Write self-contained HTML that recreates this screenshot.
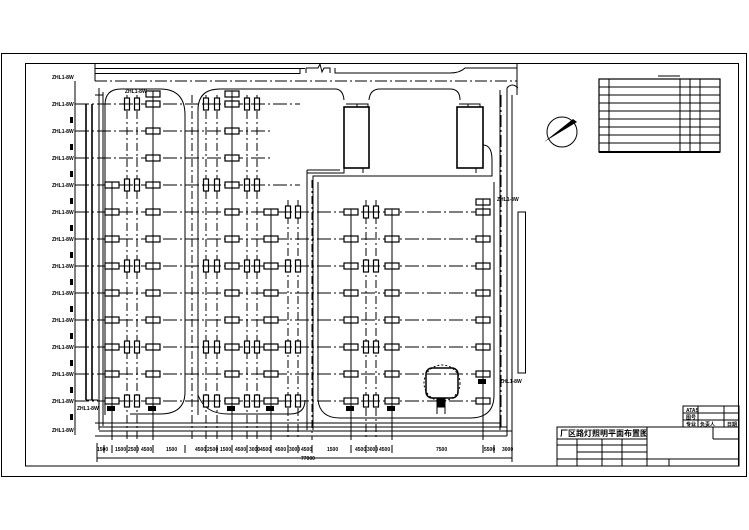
<!DOCTYPE html>
<html><head><meta charset="utf-8"><style>
html,body{margin:0;padding:0;background:#fff;width:749px;height:530px;overflow:hidden}
svg{display:block}
text{font-family:"Liberation Sans","Noto Sans CJK SC",sans-serif;font-weight:bold;fill:#000}
</style></head><body>
<svg width="749" height="530" viewBox="0 0 749 530" xmlns="http://www.w3.org/2000/svg">
<defs>
<g id="h"><rect x="-7" y="-3" width="14" height="6" fill="#fff" stroke="#000" stroke-width="1.2"/><line x1="0" y1="-3" x2="0" y2="3" stroke="#000"/></g>
<g id="v"><rect x="-2.5" y="-6" width="5" height="12" fill="#fff" stroke="#000" stroke-width="1.2"/><line x1="-2.5" y1="0" x2="2.5" y2="0" stroke="#000"/></g>
</defs>
<g fill="none" stroke="#000" stroke-width="1">
<!-- frames -->
<rect x="1.5" y="53.5" width="745" height="423"/>
<rect x="25.5" y="63.5" width="713" height="402.5"/>
<!-- top road -->
<path d="M95 63 V81 M95 68.5 H305 M95 73.5 H300 M300 68 V74 M306 68 V73 M306 68 L318 68 L320 64 L322 72 L324 68 H330 V73 M335 68 V73 H450 Q460 73 465 68 H517 M517 63 V95"/>
<line x1="95" y1="81" x2="517" y2="81" stroke-dasharray="12,3,2,3"/>
<!-- left bus -->
<line x1="75" y1="81" x2="75" y2="435"/>
<line x1="86" y1="104" x2="86" y2="400" stroke-width="1.6"/>
<line x1="92" y1="104" x2="92" y2="400" stroke-width="1.6"/>
<line x1="86" y1="400" x2="98" y2="400"/>
<path d="M99 88 V430 M103 92 V426 M95 95 H103"/>
<!-- block A -->
<path d="M105 415 V105 Q105 89 121 89 H160 Q185 89 185 115 V392 Q185 414 160 414 H130"/>
<!-- block B -->
<path d="M198 415 V110 Q198 89 220 89 H335 Q343 89 344 100 M369 100 Q370 89 380 89 H450 Q460 89 460 100 M483 145 Q492 145 492 160 V176 H313 V430 M307 170 V430 M307 170 H340 M344 168 V173 H307"/>
<path d="M198 395 Q205 414 228 414 H290 Q305 414 305 400"/>
<!-- block D -->
<path d="M318 182 V400 Q320 418 340 418 H470 Q494 418 494 395 V182"/>
<!-- right verticals -->
<path d="M500 90 V430 M507 88 V436 M512 95 V440 M507 88 Q512 82 518 88"/>
<line x1="501" y1="95" x2="501" y2="430" stroke-dasharray="12,3,2,3"/>
<rect x="518" y="212" width="7.5" height="161"/>
<!-- bottom roads -->
<path d="M95 423 H500 M99 427 H507 M99 431 H512 M95 436 H507"/>
<!-- buildings -->
<rect x="344" y="107" width="25" height="61" stroke-width="1.6"/>
<rect x="457" y="107" width="26" height="61" stroke-width="1.6"/>
<path d="M346 104 H368 V107 M357 104 V107 M459 104 H480 V107 M468 104 V107 M363 168 V173 M476 168 V173"/>
<!-- tank -->
<rect x="426" y="368" width="32" height="30" rx="6" stroke-width="1.5"/>
<circle cx="442" cy="383" r="18" stroke-dasharray="2,2"/>
<rect x="437" y="399" width="8" height="8" fill="#000"/>
<path d="M437 407 V414 M445 407 V414"/>
<!-- rows -->
<g stroke-dasharray="14,3,2,3">
<line x1="75" y1="104" x2="300" y2="104"/><line x1="75" y1="131" x2="270" y2="131"/><line x1="75" y1="158" x2="270" y2="158"/>
<line x1="75" y1="185" x2="300" y2="185"/><line x1="75" y1="212" x2="492" y2="212"/><line x1="75" y1="239" x2="492" y2="239"/>
<line x1="75" y1="266" x2="492" y2="266"/><line x1="75" y1="293" x2="492" y2="293"/><line x1="75" y1="320" x2="492" y2="320"/>
<line x1="75" y1="347" x2="492" y2="347"/><line x1="75" y1="374" x2="492" y2="374"/><line x1="75" y1="401" x2="492" y2="401"/>
</g>
<!-- columns -->
<g stroke-dasharray="8,3,2,3">
<line x1="127" y1="95" x2="127" y2="440"/><line x1="137" y1="95" x2="137" y2="440"/>
<line x1="206" y1="95" x2="206" y2="440"/><line x1="217" y1="95" x2="217" y2="440"/>
<line x1="247" y1="95" x2="247" y2="440"/><line x1="257" y1="95" x2="257" y2="440"/>
<line x1="288" y1="200" x2="288" y2="440"/><line x1="298" y1="200" x2="298" y2="440"/>
<line x1="366" y1="200" x2="366" y2="440"/><line x1="376" y1="200" x2="376" y2="440"/>
<line x1="192" y1="95" x2="192" y2="440"/><line x1="312" y1="180" x2="312" y2="440"/>
</g>
<path d="M112 185 V440 M153 95 V440 M232 95 V440 M271 212 V440 M351 212 V440 M392 212 V440 M483 200 V440"/>
<!-- dimension -->
<path d="M97 458 H512 M97 443 V462 M512 440 V462"/>
<path d="M104 445V453M112 445V453M127 445V453M137 445V453M153 445V453M185 445V453M206 445V453M217 445V453M232 445V453M247 445V453M257 445V453M271 445V453M288 445V453M298 445V453M312 445V453M351 445V453M366 445V453M376 445V453M392 445V453M483 445V453M494 445V453"/>
<!-- compass -->
<circle cx="562" cy="132" r="15"/>
<!-- right table -->
<rect x="599" y="79" width="121" height="73" stroke-width="1.2"/>
<path d="M609 79V152M680 79V152M690 79V152M700 79V152M599 87H720M599 95H720M599 103H720M599 111H720M599 119H720M599 127H720M599 135H720M599 143H720M658 76H680"/>
<line x1="599" y1="152" x2="720" y2="152" stroke-width="2"/>
<!-- title block -->
<rect x="557" y="427" width="182" height="39"/>
<path d="M557 439H647M647 427V466M713 427V439M713 439H739M557 445H647M577 452H647M557 459H739M577 439V466M602 439V466M622 439V466M669 459V466"/>
<rect x="683" y="406" width="56" height="21"/>
<path d="M683 413H739M683 420H739M698 406V427M724 406V427"/>
</g>
<!-- compass needle -->
<polygon points="544,142 577,122 573,119" fill="#000"/>
<!-- fixtures -->
<g>
<use href="#v" x="127" y="104"/><use href="#v" x="137" y="104"/><use href="#h" x="153" y="104"/><use href="#v" x="206" y="104"/><use href="#v" x="217" y="104"/><use href="#h" x="232" y="104"/><use href="#v" x="247" y="104"/><use href="#v" x="257" y="104"/>
<use href="#h" x="153" y="131"/><use href="#h" x="232" y="131"/><use href="#h" x="153" y="158"/><use href="#h" x="232" y="158"/>
<use href="#h" x="112" y="185"/><use href="#v" x="127" y="185"/><use href="#v" x="137" y="185"/><use href="#h" x="153" y="185"/><use href="#v" x="206" y="185"/><use href="#v" x="217" y="185"/><use href="#h" x="232" y="185"/><use href="#v" x="247" y="185"/><use href="#v" x="257" y="185"/>
</g>
<g id="rf">
<use href="#h" x="112" y="212"/><use href="#h" x="153" y="212"/><use href="#h" x="232" y="212"/><use href="#h" x="271" y="212"/><use href="#v" x="288" y="212"/><use href="#v" x="298" y="212"/><use href="#h" x="351" y="212"/><use href="#v" x="366" y="212"/><use href="#v" x="376" y="212"/><use href="#h" x="392" y="212"/><use href="#h" x="483" y="212"/>
</g>
<g id="rs">
<use href="#h" x="112" y="239"/><use href="#h" x="153" y="239"/><use href="#h" x="232" y="239"/><use href="#h" x="271" y="239"/><use href="#h" x="351" y="239"/><use href="#h" x="392" y="239"/><use href="#h" x="483" y="239"/>
</g>
<g transform="translate(0,54)"><use href="#rs"/></g>
<g transform="translate(0,81)"><use href="#rs"/></g>
<g transform="translate(0,135)"><use href="#rs"/></g>
<g id="full" transform="translate(0,54)"><use href="#rf"/><use href="#v" x="127" y="212"/><use href="#v" x="137" y="212"/><use href="#v" x="206" y="212"/><use href="#v" x="217" y="212"/><use href="#v" x="247" y="212"/><use href="#v" x="257" y="212"/></g>
<g transform="translate(0,135)"><use href="#rf"/><use href="#v" x="127" y="212"/><use href="#v" x="137" y="212"/><use href="#v" x="206" y="212"/><use href="#v" x="217" y="212"/><use href="#v" x="247" y="212"/><use href="#v" x="257" y="212"/></g>
<g transform="translate(0,189)"><use href="#rf"/><use href="#v" x="127" y="212"/><use href="#v" x="137" y="212"/><use href="#v" x="206" y="212"/><use href="#v" x="217" y="212"/><use href="#v" x="247" y="212"/><use href="#v" x="257" y="212"/></g>
<use href="#h" x="153" y="94"/><use href="#h" x="232" y="94"/><use href="#h" x="483" y="202"/>
<g fill="#000">
<rect x="148" y="406" width="8" height="5"/><rect x="227" y="406" width="8" height="5"/><rect x="266" y="406" width="8" height="5"/><rect x="346" y="406" width="8" height="5"/><rect x="387" y="406" width="8" height="5"/><rect x="478" y="379" width="8" height="5"/><rect x="107" y="406" width="8" height="5"/>
<rect x="70" y="117" width="3" height="6"/><rect x="70" y="144" width="3" height="6"/><rect x="70" y="171" width="3" height="6"/><rect x="70" y="198" width="3" height="6"/><rect x="70" y="225" width="3" height="6"/><rect x="70" y="252" width="3" height="6"/><rect x="70" y="279" width="3" height="6"/><rect x="70" y="306" width="3" height="6"/><rect x="70" y="333" width="3" height="6"/><rect x="70" y="360" width="3" height="6"/><rect x="70" y="387" width="3" height="6"/><rect x="70" y="414" width="3" height="6"/>
</g>
<!-- labels -->
<g font-size="5">
<text x="52" y="79">ZHL1-8W</text><text x="52" y="106">ZHL1-8W</text><text x="52" y="133">ZHL1-8W</text><text x="52" y="160">ZHL1-8W</text><text x="52" y="187">ZHL1-8W</text><text x="52" y="214">ZHL1-8W</text><text x="52" y="241">ZHL1-8W</text><text x="52" y="268">ZHL1-8W</text><text x="52" y="295">ZHL1-8W</text><text x="52" y="322">ZHL1-8W</text><text x="52" y="349">ZHL1-8W</text><text x="52" y="376">ZHL1-8W</text><text x="52" y="403">ZHL1-8W</text><text x="52" y="432">ZHL1-8W</text>
<text x="77" y="410">ZHL1-8W</text><text x="125" y="93">ZHL1-8W</text><text x="497" y="201">ZHL1-8W</text><text x="500" y="383">ZHL1-8W</text>
<text x="97" y="451">1500</text><text x="115" y="451">1500</text><text x="128" y="451">2500</text><text x="141" y="451">4500</text><text x="166" y="451">1500</text><text x="195" y="451">4500</text><text x="207" y="451">2500</text><text x="220" y="451">1500</text><text x="235" y="451">4500</text><text x="249" y="451">3000</text><text x="260" y="451">4500</text><text x="275" y="451">4500</text><text x="289" y="451">3000</text><text x="301" y="451">4500</text><text x="327" y="451">1500</text><text x="355" y="451">4500</text><text x="367" y="451">3000</text><text x="379" y="451">4500</text><text x="436" y="451">7500</text><text x="484" y="451">5500</text><text x="502" y="451">3000</text>
<text x="301" y="460">77000</text>
<text x="686" y="412">ATAS</text><text x="686" y="419">图号</text><text x="686" y="426">专业</text><text x="700" y="426">负责人</text><text x="727" y="426">日期</text>
</g>
<text x="560" y="436" font-size="8">厂区路灯照明平面布置图</text>
</svg>
</body></html>
